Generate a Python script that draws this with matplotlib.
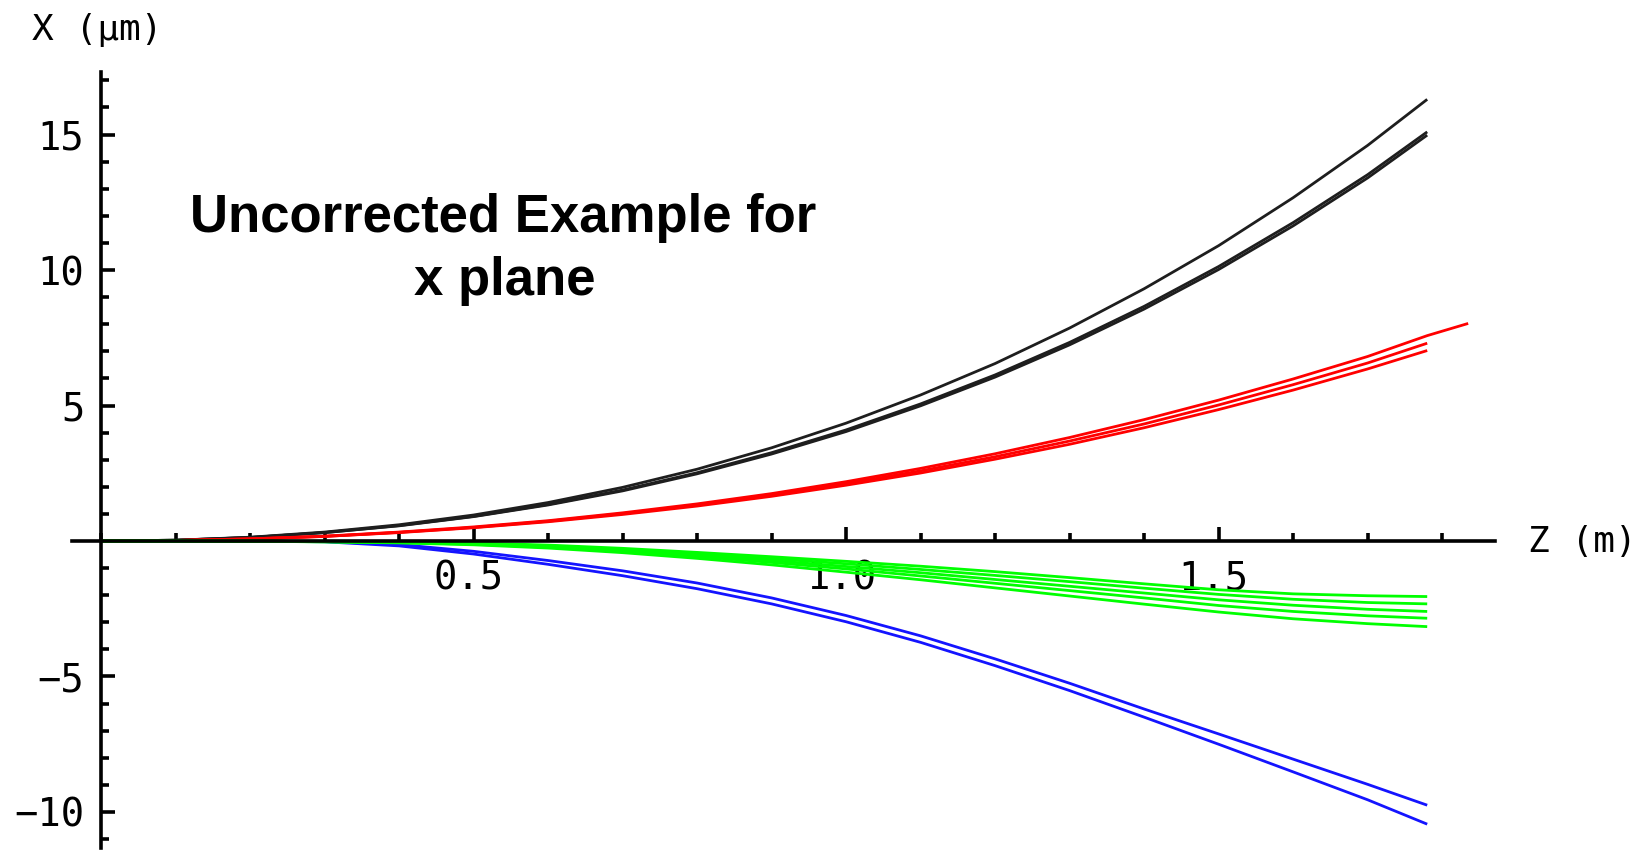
import matplotlib
matplotlib.use("Agg")
import matplotlib.pyplot as plt
import matplotlib.transforms as mtransforms
from matplotlib.ticker import FixedLocator, MultipleLocator

# Longitudinal position along the beamline (m)
z_grid = [0.0, 0.1, 0.2, 0.3, 0.4, 0.5, 0.6, 0.7, 0.8, 0.9, 1.0,
          1.1, 1.2, 1.3, 1.4, 1.5, 1.6, 1.7, 1.78]
z_long = z_grid + [1.835]

# Horizontal displacement X (um) for each ray family
black_1 = [0, 0.03, 0.14, 0.33, 0.60, 0.96, 1.42, 1.98, 2.65, 3.44, 4.35,
           5.39, 6.55, 7.86, 9.31, 10.90, 12.67, 14.60, 16.30]
black_2 = [0, 0.03, 0.13, 0.31, 0.57, 0.91, 1.35, 1.88, 2.52, 3.26, 4.10,
           5.06, 6.13, 7.33, 8.66, 10.13, 11.75, 13.52, 15.10]
black_3 = [0, 0.03, 0.13, 0.31, 0.56, 0.90, 1.33, 1.85, 2.48, 3.21, 4.04,
           4.99, 6.05, 7.24, 8.56, 10.02, 11.63, 13.40, 14.98]

red_1 = [0, 0.02, 0.08, 0.18, 0.33, 0.52, 0.75, 1.04, 1.37, 1.75, 2.19,
         2.68, 3.22, 3.82, 4.48, 5.20, 5.98, 6.81, 7.58, 8.03]
red_2 = [0, 0.02, 0.08, 0.17, 0.32, 0.50, 0.73, 1.01, 1.33, 1.70, 2.12,
         2.59, 3.11, 3.69, 4.32, 5.02, 5.77, 6.57, 7.30]
red_3 = [0, 0.02, 0.07, 0.17, 0.31, 0.49, 0.71, 0.98, 1.29, 1.65, 2.06,
         2.51, 3.02, 3.57, 4.18, 4.85, 5.57, 6.35, 7.03]

green_1 = [0, 0, 0, -0.01, -0.03, -0.07, -0.15, -0.27, -0.42, -0.58, -0.75,
           -0.93, -1.13, -1.35, -1.58, -1.80, -1.95, -2.02, -2.05]
green_2 = [0, 0, -0.005, -0.02, -0.04, -0.09, -0.18, -0.31, -0.47, -0.65, -0.84,
           -1.05, -1.27, -1.50, -1.74, -1.97, -2.15, -2.27, -2.32]
green_3 = [0, 0, -0.005, -0.02, -0.05, -0.11, -0.21, -0.35, -0.52, -0.72, -0.94,
           -1.17, -1.42, -1.67, -1.92, -2.17, -2.37, -2.52, -2.60]
green_4 = [0, 0, -0.01, -0.03, -0.06, -0.12, -0.23, -0.38, -0.57, -0.79, -1.03,
           -1.29, -1.56, -1.83, -2.10, -2.38, -2.60, -2.76, -2.85]
green_5 = [0, 0, -0.01, -0.03, -0.07, -0.14, -0.26, -0.43, -0.64, -0.88, -1.15,
           -1.43, -1.73, -2.03, -2.33, -2.62, -2.87, -3.05, -3.16]

blue_1 = [0, 0, 0, -0.02, -0.13, -0.38, -0.72, -1.10, -1.55, -2.10, -2.75,
          -3.50, -4.35, -5.25, -6.20, -7.12, -8.05, -8.98, -9.75]
blue_2 = [0, 0, 0, -0.03, -0.18, -0.48, -0.86, -1.28, -1.76, -2.32, -2.98,
          -3.74, -4.60, -5.52, -6.50, -7.50, -8.52, -9.55, -10.45]

x_ticks = [0.5, 1.0, 1.5]
x_tick_labels = ["0.5", "1.0", "1.5"]
y_ticks = [-10, -5, 5, 10, 15]
y_tick_labels = ["\u221210", "\u22125", "5", "10", "15"]

W, H = 1640, 850
fig = plt.figure(figsize=(W / 100, H / 100), dpi=100)
ax = fig.add_axes([72 / W, 2 / H, 1423 / W, 776 / H])
ax.set_xlim(-0.039, 1.871)
ax.set_ylim(-11.33, 17.31)

lw = 2.0
for ys in (blue_1, blue_2):
    ax.plot(z_grid, ys, color="#1414ff", lw=lw, solid_capstyle="butt")
for ys in (black_1, black_2, black_3):
    ax.plot(z_grid, ys, color="#1e1e1e", lw=lw, solid_capstyle="butt")
ax.plot(z_long, red_1, color="#ff0000", lw=lw, solid_capstyle="butt")
for ys in (red_2, red_3):
    ax.plot(z_grid, ys, color="#ff0000", lw=lw, solid_capstyle="butt")
for ys in (green_1, green_2, green_3, green_4, green_5):
    ax.plot(z_grid, ys, color="#00ff00", lw=lw, solid_capstyle="butt")

# Axes crossing at the origin
for side in ("top", "right"):
    ax.spines[side].set_visible(False)
for side in ("left", "bottom"):
    ax.spines[side].set_position(("data", 0))
    ax.spines[side].set_linewidth(2.6)
    ax.spines[side].set_zorder(3)

ax.xaxis.set_major_locator(FixedLocator(x_ticks))
ax.xaxis.set_minor_locator(MultipleLocator(0.1))
ax.yaxis.set_major_locator(FixedLocator(y_ticks))
ax.yaxis.set_minor_locator(MultipleLocator(1))
ax.set_xticklabels(x_tick_labels)
ax.set_yticklabels(y_tick_labels)

ax.tick_params(which="major", direction="in", length=10, width=2.6)
ax.tick_params(which="minor", direction="in", length=6, width=2.6)
ax.tick_params(axis="x", which="major", pad=13)
ax.tick_params(axis="y", which="major", pad=12)

mono = "DejaVu Sans Mono"
shift = mtransforms.ScaledTranslation(-5 / 100, 0, fig.dpi_scale_trans)
for lbl in ax.get_xticklabels():
    lbl.set_fontfamily(mono)
    lbl.set_fontsize(28)
    lbl.set_transform(lbl.get_transform() + shift)
for lbl in ax.get_yticklabels():
    lbl.set_fontfamily(mono)
    lbl.set_fontsize(28)

fig.text(97 / W, 1 - 30 / H, "X (\u03bcm)", family=mono, fontsize=26,
         ha="center", va="center")
fig.text(1528 / W, 1 - 542 / H, "Z (m)", family=mono, fontsize=26,
         ha="left", va="center")

fig.text(503 / W, 1 - 232 / H, "Uncorrected Example for",
         family="Liberation Sans", weight="bold", fontsize=38,
         ha="center", va="baseline")
fig.text(505 / W, 1 - 295 / H, "x plane",
         family="Liberation Sans", weight="bold", fontsize=38,
         ha="center", va="baseline")

fig.savefig("out.png", dpi=100, facecolor="white")
